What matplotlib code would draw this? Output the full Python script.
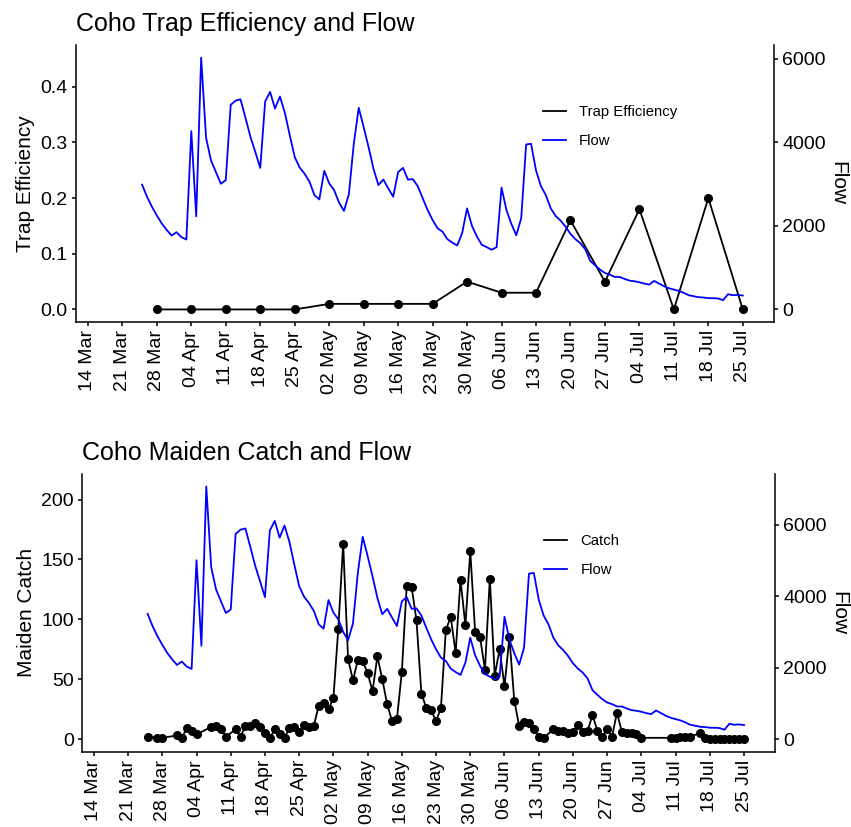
import numpy as np
import pandas as pd
import matplotlib
matplotlib.use("Agg")
import matplotlib.pyplot as plt
import matplotlib.dates as mdates
from matplotlib.lines import Line2D

plt.rcParams['font.family'] = ['Liberation Sans', 'DejaVu Sans']

# --- daily flow, 25 Mar to 25 Jul ---
flow = [2990, 2700, 2460, 2250, 2060, 1905, 1770, 1850, 1730, 1675,
        4270, 2230, 6030, 4110, 3570, 3290, 3010, 3095, 4900, 5000,
        5030, 4590, 4140, 3770, 3390, 4980, 5210, 4810, 5100, 4710,
        4170, 3650, 3400, 3250, 3060, 2740, 2635, 3320, 3020, 2860,
        2560, 2360, 2760, 3970, 4830, 4370, 3890, 3370, 2980, 3110,
        2900, 2700, 3290, 3390, 3110, 3120, 2950, 2660, 2380, 2143,
        1944, 1865, 1683, 1600, 1532, 1825, 2420, 2000, 1746, 1548,
        1492, 1429, 1492, 2920, 2380, 2048, 1778, 2183, 3950, 3968,
        3333, 2952, 2738, 2421, 2238, 2127, 1984, 1810, 1683, 1587,
        1444, 1167, 1056, 952, 873, 833, 778, 778, 730, 690,
        675, 651, 619, 595, 683, 619, 556, 508, 476, 444,
        397, 341, 317, 294, 286, 270, 270, 262, 222, 365,
        341, 349, 333]

# --- daily maiden catch (nan = trap not checked) ---
nan = np.nan
catch = [2, nan, 1, 1, nan, nan, 3, 1, 9, 7,
         4, nan, nan, 10, 11, 8, 2, nan, 8, 2,
         11, 11, 13, 10, 5, 1, 8, 4, 1, 9,
         10, 6, 12, 10, 11, 28, 30, 25, 34, 92,
         163, 67, 49, 66, 65, 55, 40, 69, 50, 29,
         15, 17, 56, 128, 127, 99, 38, 26, 24, 15,
         26, 91, 102, 72, 133, 95, 157, 89, 85, 58,
         134, 53, 75, 44, 85, 32, 11, 14, 13, 8,
         2, 1, nan, 8, 7, 7, 5, 6, 12, 6,
         7, 20, 7, 2, 8, 2, 22, 6, 5, 5,
         4, 1, nan, nan, nan, nan, nan, 1, 1, 2,
         2, 2, nan, 5, 1, 0, 0, 0, 0, 0,
         0, 0, 0]

# --- weekly trap efficiency, 28 Mar to 25 Jul ---
trap_eff = [0.0, 0.0, 0.0, 0.0, 0.0, 0.01, 0.01, 0.01, 0.01, 0.05,
            0.03, 0.03, 0.16, 0.05, 0.18, 0.0, 0.20, 0.0]

days = pd.date_range("2021-03-25", periods=len(flow), freq="D")
trap_days = pd.date_range("2021-03-28", periods=len(trap_eff), freq="7D")
tick_days = pd.date_range("2021-03-14", "2021-07-25", freq="7D")

catch = np.array(catch, dtype=float)
flow = np.array(flow, dtype=float)
has_catch = ~np.isnan(catch)

fig = plt.figure(figsize=(8.51, 8.27), dpi=100)

lw = 1.1
xlim = (pd.Timestamp("2021-03-11 14:00"), pd.Timestamp("2021-07-31 08:00"))


def expand(lo, hi):
    pad = 0.05 * (hi - lo)
    return lo - pad, hi + pad


def style(ax, ax2, ylabel):
    ax.set_xlim(*xlim)
    ax.set_xticks(tick_days)
    ax.xaxis.set_major_formatter(mdates.DateFormatter("%d %b"))
    for lab in ax.get_xticklabels():
        lab.set_rotation(90)
    ax.spines['top'].set_visible(False)
    ax.spines['right'].set_visible(False)
    ax2.spines['top'].set_visible(False)
    ax2.spines['left'].set_visible(False)
    ax2.spines['bottom'].set_visible(False)
    for sp in ['left', 'bottom']:
        ax.spines[sp].set_linewidth(lw)
    ax2.spines['right'].set_linewidth(lw)
    ax.tick_params(direction='out', length=3, width=lw, labelsize=14, pad=3)
    ax2.tick_params(direction='out', length=3, width=lw, labelsize=14, pad=3)
    ax.set_ylabel(ylabel, fontsize=15, labelpad=4)
    ax2.set_ylabel("Flow", fontsize=15, rotation=270, va='bottom', labelpad=2)


# ---------------- Trap efficiency ----------------
ax1 = fig.add_axes([0.0893, 0.6106, 0.8202, 0.3349])
ax1b = ax1.twinx()
k_top = 13333.0
ax1.plot(trap_days, trap_eff, color='black', lw=1.3, marker='o', ms=5.5, zorder=3)
ax1.plot(days, flow / k_top, color='blue', lw=1.3, zorder=4)
lo, hi = expand(0, max(flow.max() / k_top, max(trap_eff)))
ax1.set_ylim(lo, hi)
ax1.set_yticks([0.0, 0.1, 0.2, 0.3, 0.4])
ax1.set_yticklabels(["0.0", "0.1", "0.2", "0.3", "0.4"])
ax1b.set_ylim(lo * k_top, hi * k_top)
ax1b.set_yticks([0, 2000, 4000, 6000])
style(ax1, ax1b, "Trap Efficiency")
ax1.set_title("Coho Trap Efficiency and Flow", loc='left', fontsize=18, pad=10)
fig.legend(handles=[Line2D([], [], color='black', lw=1.3),
                    Line2D([], [], color='blue', lw=1.3)],
           labels=["Trap Efficiency", "Flow"], loc='center left',
           bbox_to_anchor=(0.6377, 0.8468), frameon=False, fontsize=10.7,
           handlelength=1.55, handletextpad=0.9, labelspacing=1.0,
           borderpad=0, borderaxespad=0)

# ---------------- Maiden catch ----------------
ax2 = fig.add_axes([0.0964, 0.0911, 0.8143, 0.3358])
ax2b = ax2.twinx()
k_flow = 28.6   # flow drawn in catch units
k_axis = 33.5   # secondary axis scale
ax2.plot(days[has_catch], catch[has_catch], color='black', lw=1.3, marker='o', ms=5.5, zorder=3)
ax2.plot(days, flow / k_flow, color='blue', lw=1.3, zorder=4)
lo, hi = expand(0, max(flow.max() / k_flow, np.nanmax(catch)))
ax2.set_ylim(lo, hi)
ax2.set_yticks([0, 50, 100, 150, 200])
ax2b.set_ylim(lo * k_axis, hi * k_axis)
ax2b.set_yticks([0, 2000, 4000, 6000])
style(ax2, ax2b, "Maiden Catch")
ax2.set_title("Coho Maiden Catch and Flow", loc='left', fontsize=18, pad=10)
fig.legend(handles=[Line2D([], [], color='black', lw=1.3),
                    Line2D([], [], color='blue', lw=1.3)],
           labels=["Catch", "Flow"], loc='center left',
           bbox_to_anchor=(0.6392, 0.3278), frameon=False, fontsize=10.7,
           handlelength=1.55, handletextpad=0.9, labelspacing=1.0,
           borderpad=0, borderaxespad=0)

fig.savefig("out.png", dpi=100)
